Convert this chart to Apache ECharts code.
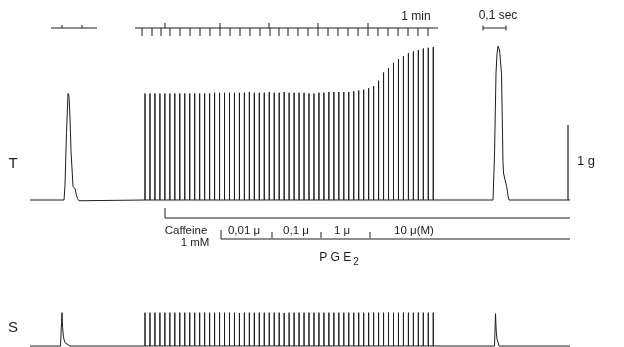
<!DOCTYPE html>
<html>
<head>
<meta charset="utf-8">
<script src="https://cdn.jsdelivr.net/npm/echarts@6/dist/echarts.min.js"></script>
<style>html,body{margin:0;background:#fff}#graph{width:624px;height:347px}</style>
</head>
<body>
<div id="graph"></div>
<script>
var chartDom = document.getElementById('graph');
var myChart = echarts.init(chartDom);
var option;

// positions are in trace units along the recording (chart paper)
var trainStart = 145;
var trainStep = 4.97;

// T: twitch tension (g) for each stimulus of the train
var tTension = [
  1.42, 1.42, 1.42, 1.42, 1.42, 1.42, 1.42, 1.42, 1.42, 1.42, 1.42, 1.42, 1.42, 1.42,
  1.43, 1.43, 1.43, 1.43, 1.43, 1.43, 1.43, 1.44, 1.43, 1.43, 1.43, 1.44, 1.43, 1.43,
  1.44, 1.43, 1.43, 1.43, 1.43, 1.42, 1.42, 1.43, 1.43, 1.44, 1.44, 1.44,
  1.44, 1.44, 1.45, 1.46, 1.47, 1.49, 1.52, 1.59, 1.70, 1.76, 1.83, 1.88, 1.92,
  1.96, 1.98, 2.00, 2.02, 2.03, 2.04
];
// S: stimulus artefact height (relative) for each stimulus of the train
var sStim = [
  1, 1, 1, 1, 1, 1, 1, 1, 1, 1, 1, 1, 1, 1, 1, 1, 1, 1, 1, 0.99,
  1, 1, 1, 1, 1, 1, 1, 1, 0.99, 1, 1, 1, 1, 1, 1, 1, 1, 1, 1, 1,
  1, 1, 1, 1, 1, 1, 1, 1, 1, 1, 1, 1, 1, 1, 1, 1, 1, 1, 1
];

// single twitches recorded at fast paper speed (before / after)
var tTwitchBefore = [[30, 0], [64, 0], [65, 0.2], [66.5, 0.9], [68, 1.42], [69, 1.38], [70, 1.1],
  [71, 0.65], [72, 0.42], [73, 0.18], [75, 0.15], [76.5, 0.06], [77.5, 0.02], [79, -0.01], [81, 0]];
var tTwitchAfter = [[493, 0], [494.5, 0.6], [496, 1.69], [497, 1.95], [498, 2.05], [499.5, 2.0],
  [501.5, 1.69], [503, 0.5], [503.5, 0.36], [505, 0.27], [506.7, 0.18], [508, 0.06], [509, 0], [570, 0]];
var sSpikeBefore = [[30, 0], [60.5, 0], [61.5, 0.7], [62, 1.0], [62.6, 0.55], [63.5, 0.25],
  [65, 0.1], [67, 0.04], [70, 0]];
var sSpikeAfter = [[494.5, 0], [495.5, 0.97], [496.2, 0.45], [497, 0.2], [498, 0.12], [499, 0], [570, 0]];

// time markers
var slowLine = [135, 438];
var slowTicks = [142, 152, 161, 170, 180, 190, 200, 210, 220, 230, 240, 250, 260, 270, 279,
  288, 298, 308, 318, 328, 338, 348, 358, 368, 378, 388, 398, 408, 418, 428];
var minuteMarks = [165, 220, 269, 318, 368];
var fastLine = [51, 97];
var fastTicks = [62, 82];
var secBar = [483, 506];

// drug application
var caffeineStart = 165;
var drugEnd = 570;
var pgeStart = 221;
var pgeSteps = [272, 321, 370];
var pgeLabels = ['0,01 μ', '0,1 μ', '1 μ', '10 μ(M)'];
var pgeLabelPos = [244, 296, 342, 414];

// scale bar
var gramBar = [568, 0, 1];

function traceData(before, heights, after) {
  var d = before.slice();
  heights.forEach(function (h, i) {
    var x = trainStart + i * trainStep;
    d.push([x, 0], [x, h], [x, 0]);
  });
  return d.concat(after);
}

var segs = [];
segs.push([slowLine[0], 28, slowLine[1], 28]);
slowTicks.forEach(function (t) { segs.push([t, 28, t, 36]); });
minuteMarks.forEach(function (m) { segs.push([m, 28, m, 23]); });
segs.push([fastLine[0], 28, fastLine[1], 28]);
fastTicks.forEach(function (t) { segs.push([t, 28, t, 25]); });
segs.push([secBar[0], 28, secBar[1], 28], [secBar[0], 25.5, secBar[0], 30.5], [secBar[1], 25.5, secBar[1], 30.5]);
segs.push([caffeineStart, 208, caffeineStart, 218], [caffeineStart, 218, drugEnd, 218]);
segs.push([pgeStart, 230, pgeStart, 239], [pgeStart, 239, drugEnd, 239]);
pgeSteps.forEach(function (s) { segs.push([s, 232, s, 238]); });

var labels = [
  [13, 164, 'T', 15], [13, 328, 'S', 15],
  [416, 17, '1 min', 12], [498, 16, '0,1 sec', 12],
  [586, 161, '1 g', 13],
  [186, 231, 'Caffeine', 11.5], [195, 243, '1 mM', 11.5],
  [339, 258, '{a|P G E}{b|2}', 12]
];
pgeLabels.forEach(function (t, i) { labels.push([pgeLabelPos[i], 231, t, 11.5]); });

var ink = '#1e1e1e';
var font = 'Liberation Sans';

function axisX(i) { return { type: 'value', gridIndex: i, min: 0, max: 624, show: false }; }

option = {
  animation: false,
  backgroundColor: '#fff',
  grid: [
    { left: 0, right: 0, top: 20, height: 180 },
    { left: 0, right: 0, top: 306, height: 40 },
    { left: 0, right: 0, top: 0, bottom: 0 }
  ],
  xAxis: [axisX(0), axisX(1), axisX(2)],
  yAxis: [
    { type: 'value', gridIndex: 0, min: 0, max: 2.4, show: false },
    { type: 'value', gridIndex: 1, min: 0, max: 1.2, show: false },
    { type: 'value', gridIndex: 2, min: 0, max: 347, inverse: true, show: false }
  ],
  series: [
    {
      name: 'T', type: 'line', xAxisIndex: 0, yAxisIndex: 0,
      data: traceData(tTwitchBefore, tTension, tTwitchAfter),
      showSymbol: false, clip: false, silent: true,
      lineStyle: { width: 1, color: ink }
    },
    {
      name: 'S', type: 'line', xAxisIndex: 1, yAxisIndex: 1,
      data: traceData(sSpikeBefore, sStim, sSpikeAfter),
      showSymbol: false, clip: false, silent: true,
      lineStyle: { width: 1, color: ink }
    },
    {
      name: '1 g', type: 'custom', xAxisIndex: 0, yAxisIndex: 0, clip: false,
      data: [gramBar],
      renderItem: function (params, api) {
        var a = api.coord([api.value(0), api.value(1)]);
        var b = api.coord([api.value(0), api.value(2)]);
        return { type: 'line', shape: { x1: a[0], y1: a[1], x2: b[0], y2: b[1] },
          style: { stroke: ink, lineWidth: 1.2 } };
      }
    },
    {
      name: 'marks', type: 'custom', xAxisIndex: 2, yAxisIndex: 2, clip: false,
      data: segs,
      renderItem: function (params, api) {
        var a = api.coord([api.value(0), api.value(1)]);
        var b = api.coord([api.value(2), api.value(3)]);
        return { type: 'line', shape: { x1: a[0], y1: a[1], x2: b[0], y2: b[1] },
          style: { stroke: ink, lineWidth: 1 } };
      }
    },
    {
      name: 'labels', type: 'custom', xAxisIndex: 2, yAxisIndex: 2, clip: false,
      data: labels.map(function (l) { return [l[0], l[1]]; }),
      renderItem: function (params, api) {
        var l = labels[params.dataIndex];
        var p = api.coord([l[0], l[1]]);
        return {
          type: 'text', x: p[0], y: p[1],
          style: {
            text: l[2], fill: ink, font: l[3] + 'px "' + font + '"',
            align: 'center', verticalAlign: 'middle',
            rich: {
              a: { fontSize: 12, fontFamily: font, fill: ink },
              b: { fontSize: 10, fontFamily: font, fill: ink, padding: [8, 0, 0, 2] }
            }
          }
        };
      }
    }
  ]
};

option && myChart.setOption(option);
</script>
</body>
</html>
